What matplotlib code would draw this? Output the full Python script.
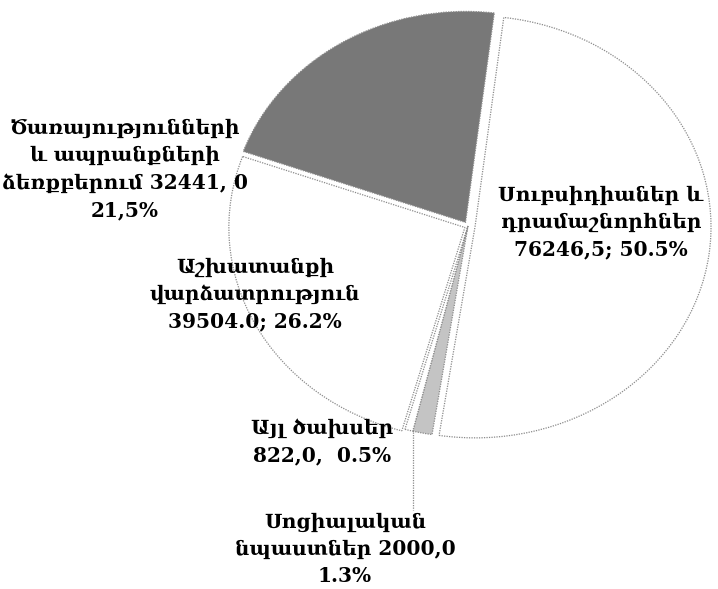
import matplotlib.pyplot as plt

# Բյուջեի ծախսերի կառուցվածքը (մլն դրամ)
labels = [
    'Սուբսիդիաներ և\nդրամաշնորհներ\n76246,5; 50.5%',
    'Սոցիալական\nնպաստներ 2000,0\n1.3%',
    'Այլ ծախսեր\n822,0,  0.5%',
    'Աշխատանքի\nվարձատրություն\n39504.0; 26.2%',
    'Ծառայությունների\nև ապրանքների\nձեռքբերում 32441, 0\n21,5%',
]
values = [76246.5, 2000.0, 822.0, 39504.0, 32441.0]
colors = ['white', '#c4c4c4', 'white', 'white', '#787878']
explode = [0.03, 0.0, 0.0, 0.015, 0.02]

# նկարի չափեր (պիքսել)
W, H = 718, 589
cx, cy = 468, 226   # կենտրոն
rx, ry = 236, 211   # էլիպսի շառավիղներ


def px(x, y):
    # պիքսելից տվյալների կոորդինատ
    return (x - cx) / rx, (cy - y) / ry


fig = plt.figure(figsize=(W / 100, H / 100), dpi=100)
ax = fig.add_axes([0, 0, 1, 1])

wedges, _ = ax.pie(values, colors=colors, explode=explode, radius=1,
                   startangle=83, counterclock=False,
                   wedgeprops=dict(edgecolor='#8a8a8a', linewidth=0.9,
                                   linestyle=(0, (1, 1))))
ax.set_aspect('auto')
ax.set_xlim(px(0, 0)[0], px(W, 0)[0])
ax.set_ylim(px(0, H)[1], px(0, 0)[1])
ax.set_axis_off()

font = dict(family=['DejaVu Serif', 'DejaVu Sans'], fontweight='bold',
            fontsize=14.5, color='black', ha='center', va='center',
            linespacing=1.45)

# պիտակների դիրքերը
label_pos = [(601, 222), (345, 549), (322, 442), (255, 294), (125, 169)]
for txt, (x, y) in zip(labels, label_pos):
    ax.text(*px(x, y), txt, **font)

# սոցիալական նպաստների ցուցիչ գիծ
ax.plot(*zip(px(413, 432), px(413, 510)), color='#8a8a8a', lw=0.9,
        linestyle=(0, (1, 1)))

fig.savefig('out.png', dpi=100)
